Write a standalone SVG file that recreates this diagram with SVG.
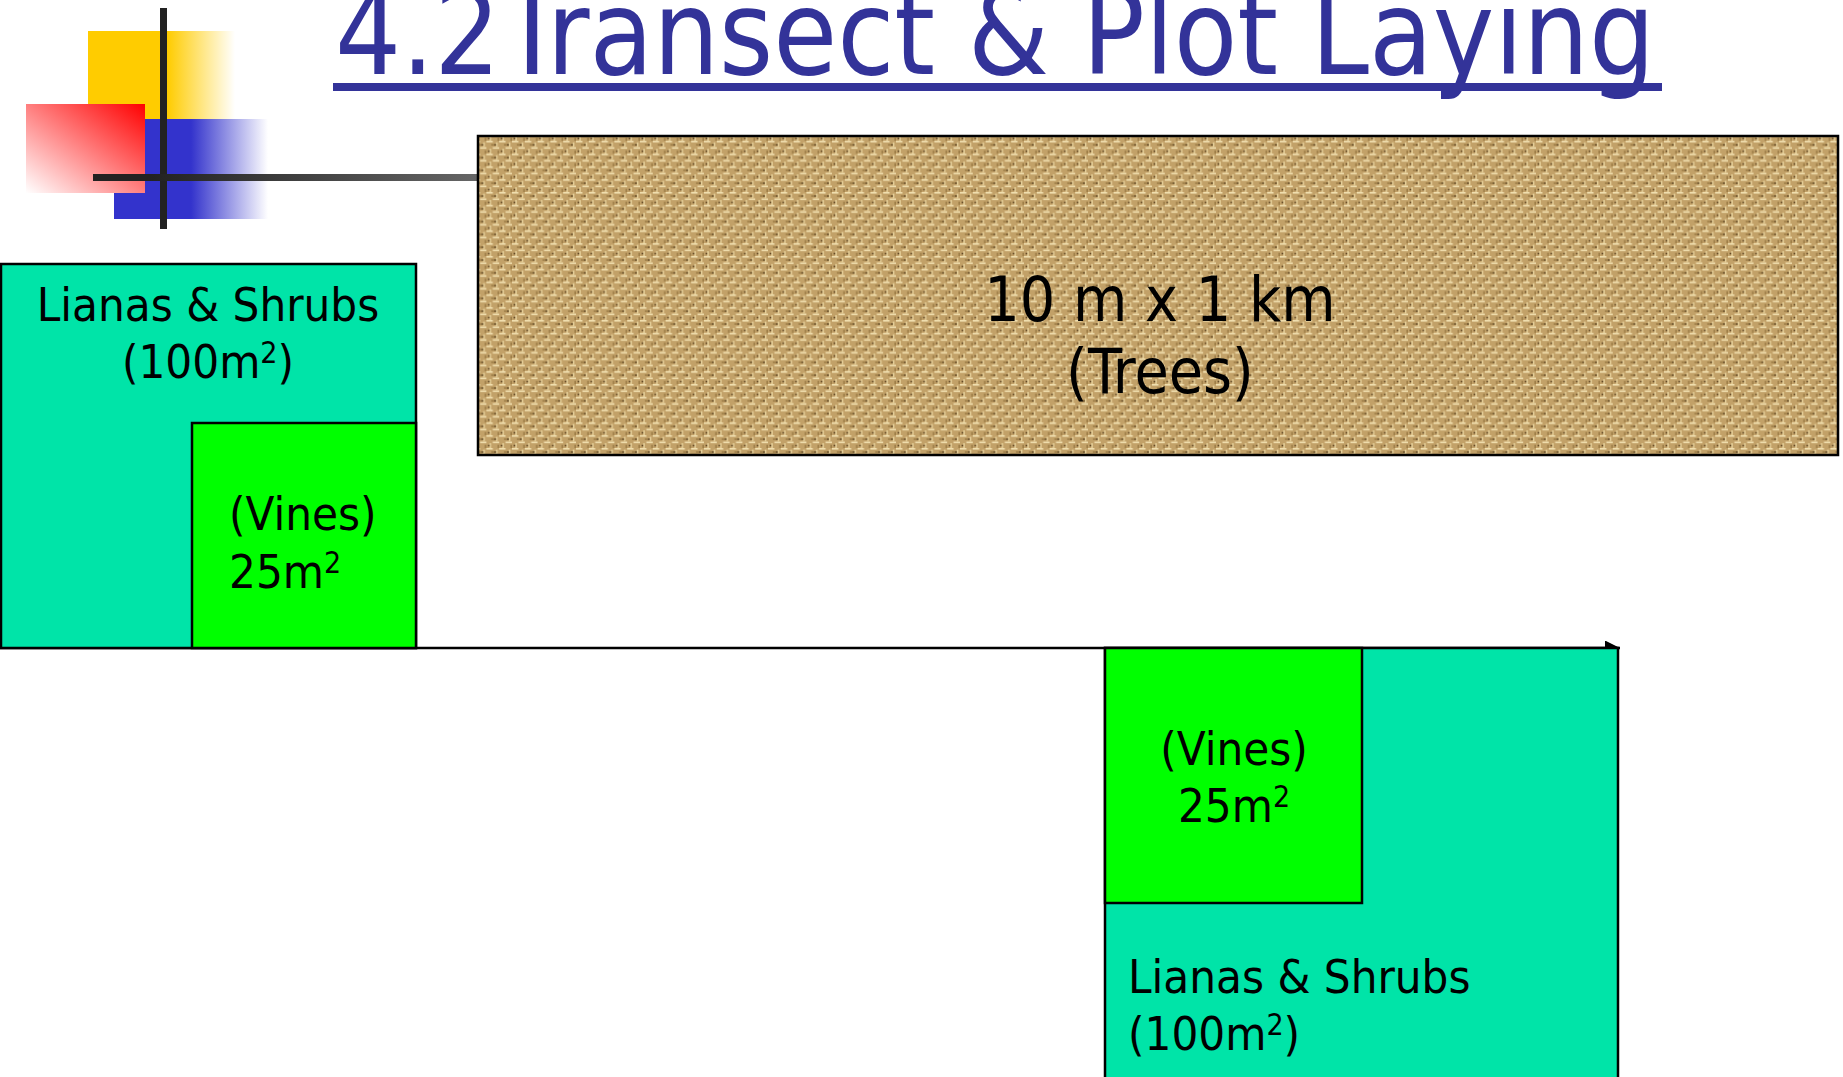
<svg xmlns="http://www.w3.org/2000/svg" width="1843" height="1077" viewBox="0 0 1843 1077">
<style>
.t{font-family:'DejaVu Sans Condensed','DejaVu Sans',sans-serif;font-stretch:condensed;fill:#000}
.lbl{font-size:47px}
.sup{font-size:30px}
.teal{fill:#00E4A8;stroke:#000;stroke-width:2.5}
.lime{fill:#00FF00;stroke:#000;stroke-width:2.5}
</style>
<defs>
<linearGradient id="gy" x1="0" y1="0" x2="1" y2="0">
<stop offset="0.54" stop-color="#FFCC00"/><stop offset="1" stop-color="#FFCC00" stop-opacity="0"/>
</linearGradient>
<linearGradient id="gb" x1="0" y1="0" x2="1" y2="0">
<stop offset="0.5" stop-color="#3333CC"/><stop offset="1" stop-color="#3333CC" stop-opacity="0"/>
</linearGradient>
<linearGradient id="gr" x1="1" y1="0" x2="0" y2="1">
<stop offset="0" stop-color="#FF0000"/><stop offset="1" stop-color="#FFFFFF"/>
</linearGradient>
<linearGradient id="gl" gradientUnits="userSpaceOnUse" x1="93" y1="0" x2="478" y2="0">
<stop offset="0.15" stop-color="#222222"/><stop offset="1" stop-color="#666666"/>
</linearGradient>
<pattern id="burlap" width="8" height="8" patternUnits="userSpaceOnUse" patternTransform="scale(1.6)">
<rect width="8" height="8" fill="#C2A168"/>
<rect x="0" y="0" width="4" height="1" fill="#F0DEAE"/>
<rect x="4" y="4" width="4" height="1" fill="#F0DEAE"/>
<rect x="6" y="1" width="1" height="3" fill="#E6D09A"/>
<rect x="2" y="5" width="1" height="3" fill="#E6D09A"/>
<rect x="3" y="2" width="2" height="1" fill="#9E7E48"/>
<rect x="7" y="6" width="1" height="2" fill="#9E7E48"/>
<rect x="5" y="2" width="1" height="1" fill="#5E4522"/>
<rect x="1" y="6" width="1" height="1" fill="#5E4522"/>
</pattern>
<marker id="ah" viewBox="0 0 10 10" refX="10" refY="5" markerWidth="6" markerHeight="6" markerUnits="strokeWidth" orient="auto">
<path d="M0,0 L10,5 L0,10 Z" fill="#000"/>
</marker>
</defs>
<rect width="1843" height="1077" fill="#FFFFFF"/>

<g id="logo">
<rect x="88" y="31" width="147" height="88" fill="url(#gy)"/>
<rect x="114" y="119" width="154" height="100" fill="url(#gb)"/>
<rect x="26" y="104" width="119" height="89" fill="url(#gr)"/>
<rect x="160" y="8" width="7" height="221" fill="#222222"/>
<rect x="93" y="174" width="385" height="7" fill="url(#gl)"/>
</g>

<g id="title">
<text x="335" y="74" font-family="'DejaVu Sans Condensed','DejaVu Sans',sans-serif" font-stretch="condensed" font-size="118" fill="#333399" textLength="1320" lengthAdjust="spacingAndGlyphs">4.2Transect &amp; Plot Laying</text>
<rect x="333" y="83" width="1329" height="8" fill="#333399"/>
</g>

<g id="connectors">
<line x1="0" y1="648" x2="1620" y2="648" stroke="#000" stroke-width="2.5" marker-end="url(#ah)"/>
</g>

<g id="transect">
<rect x="478" y="136" width="1360" height="319" fill="url(#burlap)" stroke="#000" stroke-width="2.5"/>
<text class="t" x="1160" y="321" font-size="62" text-anchor="middle">10 m x 1 km</text>
<text class="t" x="1160" y="393" font-size="62" text-anchor="middle">(Trees)</text>
</g>

<g id="plot-left">
<rect class="teal" x="1" y="264" width="415" height="384"/>
<text class="t lbl" x="208" y="321" text-anchor="middle">Lianas &amp; Shrubs</text>
<text class="t lbl" x="208" y="378" text-anchor="middle">(100m<tspan class="sup" dy="-15">2</tspan><tspan dy="15">)</tspan></text>
</g>

<g id="vines-left">
<rect class="lime" x="192" y="423" width="224" height="225"/>
<text class="t lbl" x="229" y="530">(Vines)</text>
<text class="t lbl" x="229" y="588">25m<tspan class="sup" dy="-15">2</tspan></text>
</g>

<g id="plot-right">
<rect class="teal" x="1105" y="648" width="513" height="440"/>
<text class="t lbl" x="1128" y="993">Lianas &amp; Shrubs</text>
<text class="t lbl" x="1128" y="1050">(100m<tspan class="sup" dy="-15">2</tspan><tspan dy="15">)</tspan></text>
</g>

<g id="vines-right">
<rect class="lime" x="1105" y="648" width="257" height="255"/>
<text class="t lbl" x="1234" y="765" text-anchor="middle">(Vines)</text>
<text class="t lbl" x="1234" y="822" text-anchor="middle">25m<tspan class="sup" dy="-15">2</tspan></text>
</g>
</svg>
